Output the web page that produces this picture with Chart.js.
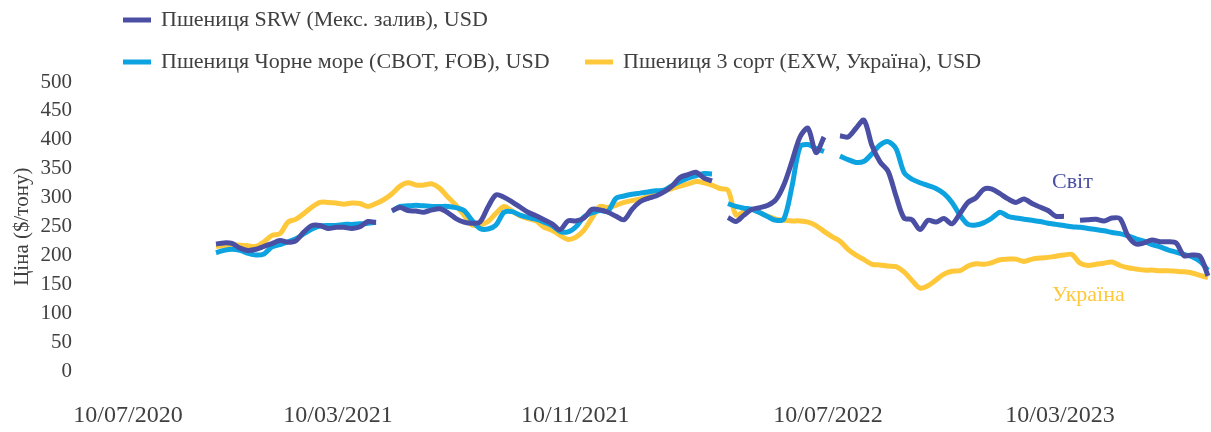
<!DOCTYPE html>
<html>
<head>
<meta charset="utf-8">
<script src="https://cdn.jsdelivr.net/npm/chart.js@4.4.0/dist/chart.umd.min.js"></script>
<style>
  html, body { margin: 0; padding: 0; background: #fff; }
</style>
</head>
<body>
<canvas id="chart" width="1211" height="432"></canvas>
<script>
// one point per step on the axis, step 0 = 10/07/2020, data starts at step 11
var firstIdx = 11;

var srw = [220, 222, 221, 213, 209, 211, 216, 221, 226, 223, 226, 241, 252, 252, 247, 249, 249, 247, 250, 259,
  257, null, 278, 283, 278, 277, 275, 279, 281, 274, 264, 258, 256, 258, 284, 305, 301, 293, 284, 275,
  269, 262, 255, 245, 260, 260, 265, 280, 279, 275, 268, 262, 280, 293, 299, 303, 310, 320, 335, 340,
  344, 334, 329, null, 266, 259, 270, 280, 283, 287, 297, 323, 363, 405, 420, 378, 405, null, 407, 405,
  420, 434, 390, 362, 346, 303, 265, 262, 245, 261, 258, 264, 255, 273, 292, 300, 315, 315, 307, 298,
  292, 298, 290, 284, 278, 268, 268, null, 261, 262, 263, 260, 265, 264, 234, 220, 222, 227, 224, 224,
  222, 200, 201, 199, 165];

var blackSea = [205, 209, 211, 209, 204, 201, 203, 215, 219, 224, 229, 238, 246, 251, 252, 252, 254, 254, 255, 256,
  258, null, 277, 285, 286, 287, 286, 285, 285, 285, 283, 278, 261, 247, 246, 253, 275, 276, 270, 266,
  263, 258, 252, 242, 241, 250, 267, 274, 278, 277, 299, 303, 306, 308, 310, 312, 313, 321, 328, 334,
  338, 342, 341, null, 290, 285, 282, 280, 274, 267, 261, 264, 320, 388, 392, 385, 380, null, 372, 366,
  361, 363, 376, 391, 397, 385, 344, 332, 326, 321, 316, 307, 292, 270, 254, 253, 257, 265, 275, 268,
  265, 263, 261, 259, 256, 254, 252, 250, 249, 247, 245, 243, 240, 238, 234, 229, 225, 219, 215, 210,
  206, 202, 198, 190, 175];

var ukraine = [216, 217, 219, 218, 217, 216, 224, 235, 238, 258, 263, 273, 284, 292, 292, 291, 289, 291, 290, 285,
  290, 297, 307, 320, 326, 322, 322, 324, 316, 301, 287, 270, 253, 253, 259, 273, 285, 277, 269, 264,
  260, 249, 244, 235, 228, 232, 244, 265, 285, 283, 287, 292, 295, 298, 302, 307, 311, 316, 320, 324,
  328, 326, 322, 316, 313, 270, 276, 280, 274, 268, 263, 261, 260, 260, 258, 252, 242, 233, 225, 211,
  201, 193, 185, 184, 182, 181, 172, 157, 144, 148, 158, 168, 173, 174, 182, 186, 185, 188, 193, 194,
  194, 190, 194, 196, 197, 199, 201, 202, 187, 183, 185, 187, 189, 183, 179, 177, 175, 175, 174, 174,
  173, 172, 170, 166, 162];

var seriesNames = ['Пшениця SRW (Мекс. залив), USD', 'Пшениця Чорне море (CBOT, FOB), USD', 'Пшениця 3 сорт (EXW, Україна), USD'];
var tickIdx = [0, 26.25, 55.9, 87.5, 116.5];
var tickLabels = ['10/07/2020', '10/03/2021', '10/11/2021', '10/07/2022', '10/03/2023'];
var yTitle = 'Ціна ($/тону)';

var colors = ['#4A4FA3', '#0DA2E0', '#FFC83A'];
var textColor = '#404040';

Chart.defaults.font.family = '"Liberation Serif", serif';
Chart.defaults.color = textColor;

function toPoints(arr) {
  return arr.map(function (v, i) { return { x: i + firstIdx, y: v }; });
}

// legend in two rows + the "Світ" / "Україна" labels
var extras = {
  id: 'extras',
  afterDraw: function (chart) {
    var ctx = chart.ctx;
    var rows = [
      { ds: 0, x: 123, y: 20 },
      { ds: 1, x: 123, y: 62 },
      { ds: 2, x: 585, y: 62 }
    ];
    ctx.save();
    ctx.font = '22px "Liberation Serif"';
    ctx.textBaseline = 'middle';
    ctx.textAlign = 'left';
    rows.forEach(function (r) {
      var ds = chart.data.datasets[r.ds];
      ctx.strokeStyle = ds.borderColor;
      ctx.lineWidth = 5;
      ctx.beginPath();
      ctx.moveTo(r.x, r.y);
      ctx.lineTo(r.x + 28, r.y);
      ctx.stroke();
      ctx.fillStyle = textColor;
      ctx.fillText(ds.label, r.x + 38, r.y);
    });

    var xs = chart.scales.x, ys = chart.scales.y;
    ctx.font = '22px "Liberation Serif"';
    ctx.fillStyle = colors[0];
    ctx.fillText('Світ', xs.getPixelForValue(115.5), ys.getPixelForValue(326));
    ctx.fillStyle = colors[2];
    ctx.fillText('Україна', xs.getPixelForValue(115.5), ys.getPixelForValue(131));
    ctx.restore();
  }
};

function line(label, data, color) {
  return {
    label: label,
    data: toPoints(data),
    borderColor: color,
    backgroundColor: color,
    borderWidth: 5,
    pointRadius: 0,
    tension: 0.3,
    spanGaps: false,
    borderJoinStyle: 'round',
    fill: false
  };
}

new Chart(document.getElementById('chart'), {
  type: 'line',
  data: {
    datasets: [
      line(seriesNames[0], srw, colors[0]),
      line(seriesNames[1], blackSea, colors[1]),
      line(seriesNames[2], ukraine, colors[2])
    ]
  },
  options: {
    responsive: false,
    animation: false,
    devicePixelRatio: 1,
    layout: { padding: { top: 82, right: 0, bottom: 0, left: 0 } },
    plugins: {
      legend: { display: false },
      tooltip: { enabled: false }
    },
    scales: {
      x: {
        type: 'linear',
        min: 0,
        max: 135.375,
        grid: { display: false },
        border: { display: false },
        afterBuildTicks: function (s) {
          s.ticks = tickIdx.map(function (v) { return { value: v }; });
        },
        afterFit: function (s) { s.height = 59; },
        ticks: {
          autoSkip: false,
          maxRotation: 0,
          padding: 22,
          font: { size: 24 },
          callback: function (v, i) { return tickLabels[i]; }
        }
      },
      y: {
        min: 0,
        max: 500,
        grid: { display: false },
        border: { display: false },
        afterFit: function (s) { s.width = 128; },
        ticks: { stepSize: 50, padding: 48, font: { size: 21 } },
        title: {
          display: true,
          text: yTitle,
          font: { size: 21 },
          padding: { top: 10, bottom: 0 }
        }
      }
    }
  },
  plugins: [extras]
});
</script>
</body>
</html>
